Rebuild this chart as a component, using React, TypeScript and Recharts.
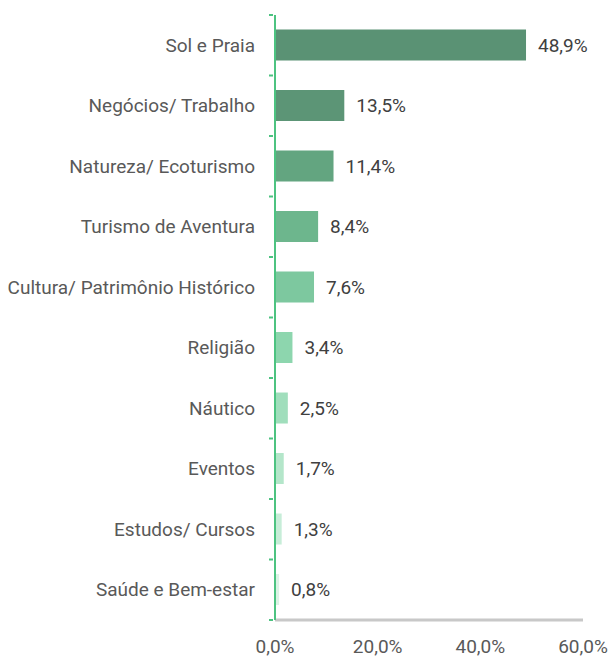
import { Bar, BarChart, Cell, LabelList, XAxis, YAxis } from "recharts";

const categorias = [
  "Sol e Praia",
  "Negócios/ Trabalho",
  "Natureza/ Ecoturismo",
  "Turismo de Aventura",
  "Cultura/ Patrimônio Histórico",
  "Religião",
  "Náutico",
  "Eventos",
  "Estudos/ Cursos",
  "Saúde e Bem-estar",
];

const percentuais = [48.9, 13.5, 11.4, 8.4, 7.6, 3.4, 2.5, 1.7, 1.3, 0.8];

const cores = [
  "#5A9274",
  "#5C9576",
  "#63A580",
  "#6DB68D",
  "#7DC89F",
  "#8DD6AE",
  "#A0DEBC",
  "#B4E6CA",
  "#C7EDD8",
  "#DCF3E6",
];

const ticksX = [0, 20, 40, 60];

const dados = categorias.map((categoria, i) => ({ categoria, valor: percentuais[i] }));

const fonte = "Roboto, 'DejaVu Sans', sans-serif";
const verde = "#4DC381";
const virgula = (v: number) => `${v.toFixed(1).replace(".", ",")}%`;

// tick da categoria: texto no centro, marca verde na divisa de cada faixa
function TickCategoria(props: any) {
  const { x, y, payload, index } = props;
  const meia = payload?.offset ?? 0;
  const ultimo = index === categorias.length - 1;
  return (
    <g>
      <line x1={x + 14} x2={x + 18} y1={y - meia} y2={y - meia} stroke={verde} strokeWidth={2} />
      {ultimo ? (
        <line x1={x + 14} x2={x + 18} y1={y + meia} y2={y + meia} stroke={verde} strokeWidth={2} />
      ) : null}
      <text x={x} y={y} dy="0.355em" textAnchor="end" fill="#595959" fontSize={19} fontFamily={fonte}>
        {payload.value}
      </text>
    </g>
  );
}

export default function App() {
  return (
    <div style={{ position: "absolute", left: 0, top: 0, background: "#fff" }}>
      <BarChart
        width={610}
        height={659}
        data={dados}
        layout="vertical"
        margin={{ top: 15, right: 27, left: 0, bottom: 9 }}
        barCategoryGap="24%"
      >
        <XAxis
          type="number"
          domain={[0, 60]}
          ticks={ticksX}
          tickFormatter={virgula}
          axisLine={{ stroke: "#C8C8C8", strokeWidth: 3 }}
          tickLine={false}
          tickMargin={14}
          height={30}
          tick={{ fill: "#595959", fontSize: 19, fontFamily: fonte }}
        />
        <YAxis
          type="category"
          dataKey="categoria"
          width={275}
          stroke={verde}
          strokeWidth={2}
          tickLine={false}
          tickMargin={14}
          interval={0}
          tick={<TickCategoria />}
        />
        <Bar dataKey="valor" isAnimationActive={false}>
          {dados.map((d, i) => (
            <Cell key={d.categoria} fill={cores[i]} />
          ))}
          <LabelList
            dataKey="valor"
            position="right"
            offset={12}
            formatter={(v: number) => virgula(Number(v))}
            style={{ fill: "#404040", fontSize: 19, fontFamily: fonte }}
          />
        </Bar>
      </BarChart>
    </div>
  );
}
